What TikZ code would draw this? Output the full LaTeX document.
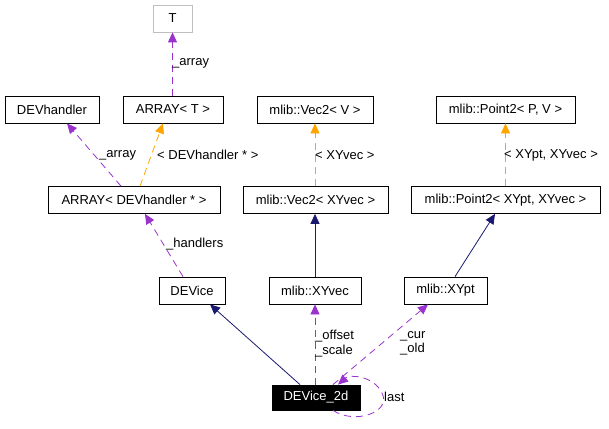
\documentclass[tikz,border=0pt]{standalone}
\usepackage{fontspec}
\setmainfont{Liberation Sans}
\usetikzlibrary{arrows.meta}

\definecolor{memberc}{HTML}{9A32CD}
\definecolor{tmplc}{HTML}{FFA500}
\definecolor{inhc}{HTML}{191970}
\definecolor{grayc}{HTML}{BFBFBF}

\tikzset{
  cls/.style={draw=black,line width=0.8pt,inner sep=0pt,minimum height=27pt,font=\fontsize{13}{14.5}\selectfont},
  lbl/.style={anchor=west,inner sep=0pt,font=\fontsize{13}{14.5}\selectfont},
  member/.style={memberc,line width=0.8pt,dash pattern=on 7pt off 5pt,-{Triangle[length=10pt,width=9pt]}},
  tmpl/.style={tmplc,line width=0.8pt,dash pattern=on 7pt off 5pt,-{Triangle[length=10pt,width=9pt]}},
  inh/.style={inhc,line width=0.8pt,-{Triangle[length=10pt,width=9pt]}}
}

\begin{document}
\begin{tikzpicture}[x=1pt,y=-1pt]
    \useasboundingbox (0,0) rectangle (609,428);
    % top rows
    \node[cls,draw=grayc,minimum width=39pt] (T) at (172.5,18.5) {T};
    \node[cls,minimum width=94pt] (devh) at (52,109.5) {DEVhandler};
    \node[cls,minimum width=100pt] (arrt) at (173,109.5) {ARRAY< T >};
    \node[cls,minimum width=116pt] (vec2v) at (315,109.5) {mlib::Vec2< V >};
    \node[cls,minimum width=139pt] (pt2pv) at (505.5,109.5) {mlib::Point2< P, V >};
    % middle rows
    \node[cls,minimum width=172pt] (arrdh) at (134,200) {ARRAY< DEVhandler * >};
    \node[cls,minimum width=145pt] (vec2x) at (315.5,200) {mlib::Vec2< XYvec >};
    \node[cls,minimum width=189pt] (pt2x) at (505.5,200) {mlib::Point2< XYpt, XYvec >};
    \node[cls,minimum width=66pt] (device) at (192,290.5) {DEVice};
    \node[cls,minimum width=92pt] (xyvec) at (315,290.5) {mlib::XYvec};
    \node[cls,minimum width=83pt] (xypt) at (445.5,290.5) {mlib::XYpt};
    % the class itself
    \node[cls,fill=black,text=white,minimum width=88pt,minimum height=25pt] (dev2d) at (316,397.5) {DEVice\_2d};

    % template arguments
    \draw[tmpl] ([xshift=6pt]arrdh.north) -- ([xshift=-10pt]arrt.south);
    \draw[tmpl] (vec2x.north -| vec2v.south) -- (vec2v.south);
    \draw[tmpl] (pt2x) -- (pt2pv);
    % inheritance
    \draw[inh] (xyvec) -- (xyvec |- vec2x.south);
    \draw[inh] ([xshift=9.5pt]xypt.north) -- ([xshift=-10.5pt]pt2x.south);
    \draw[inh] ([xshift=-16pt]dev2d.north) -- ([xshift=18pt]device.south);
    % members
    \draw[member] (arrt.north -| T.south) -- (T.south);
    \draw[member] ([xshift=-13pt]arrdh.north) -- ([xshift=15pt]devh.south);
    \draw[member] ([xshift=-9pt]device.north) -- ([xshift=11pt]arrdh.south);
    \draw[member] (dev2d.north -| xyvec.south) -- (xyvec.south);
    \draw[member] ([xshift=17pt]dev2d.north) -- ([xshift=-17.5pt]xypt.south);
    \draw[member] ([xshift=17pt]dev2d.south) .. controls (355,425) and (392,412) .. (382,393)
        .. controls (374,376) and (350,374) .. ([xshift=22pt]dev2d.north);

    % edge labels
    \node[lbl] (l1) at (172,63) {\_array};
    \node[lbl] (l2) at (99,155) {\_array};
    \node[lbl] (l3) at (157,155) {< DEVhandler * >};
    \node[lbl] (l4) at (166,244) {\_handlers};
    \node[lbl] (l5) at (315,155) {< XYvec >};
    \node[lbl] (l6) at (504,155) {< XYpt, XYvec >};
    \node[lbl,align=left] (l7) at (315,343.5) {\_offset\\\_scale};
    \node[lbl,align=left] (l8) at (400,343.5) {\_cur\\\_old};
    \node[lbl] (l9) at (384,397) {last};
\end{tikzpicture}
\end{document}
